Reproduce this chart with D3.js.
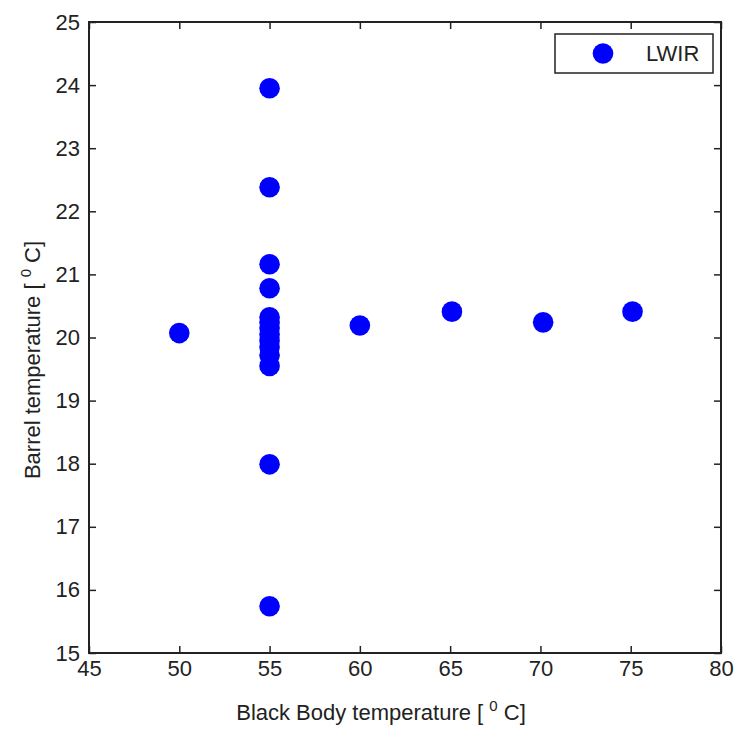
<!DOCTYPE html>
<html>
<head>
<meta charset="utf-8">
<script src="https://cdn.jsdelivr.net/npm/d3@7"></script>
<style>
  body { margin: 0; background: #fff; }
  text { font-family: "Liberation Sans", Arial, sans-serif; fill: #222; }
</style>
</head>
<body>
<div id="chart"></div>
<script>
// black body temp vs barrel temp, LWIR series
const bbTemp     = [50, 55, 55, 55, 55, 55, 55, 55, 55, 55, 55, 55, 55, 55, 55, 60, 65.1, 70.15, 75.1];
const barrelTemp = [20.07, 23.95, 22.38, 21.16, 20.78, 20.32, 20.24, 20.15, 20.05, 19.95, 19.85, 19.72, 19.55, 17.99, 15.74, 20.19, 20.41, 20.24, 20.41];
const xTicks = [45, 50, 55, 60, 65, 70, 75, 80];
const yTicks = [15, 16, 17, 18, 19, 20, 21, 22, 23, 24, 25];
const seriesName = "LWIR";

const W = 742, H = 729;
const plotL = 89, plotR = 721, plotT = 22, plotB = 653;
const fs = "22px";

const svg = d3.select("#chart").append("svg")
    .attr("width", W)
    .attr("height", H);

const x = d3.scaleLinear().domain([45, 80]).range([plotL, plotR]);
const y = d3.scaleLinear().domain([15, 25]).range([plotB, plotT]);

const axisCol = "#222";
const tickLen = 7;

// points first, box on top
const pts = bbTemp.map((b, i) => ({ bb: b, barrel: barrelTemp[i] }));
svg.append("g").selectAll("circle")
    .data(pts)
    .join("circle")
    .attr("cx", d => x(d.bb))
    .attr("cy", d => y(d.barrel))
    .attr("r", 10.3)
    .attr("fill", "#0000ff");

// bottom / left axes with inward ticks
const xAxis = svg.append("g")
    .attr("transform", `translate(0,${plotB})`)
    .call(d3.axisBottom(x).tickValues(xTicks).tickSizeInner(-tickLen).tickSizeOuter(0).tickPadding(10));
const yAxis = svg.append("g")
    .attr("transform", `translate(${plotL},0)`)
    .call(d3.axisLeft(y).tickValues(yTicks).tickSizeInner(-tickLen).tickSizeOuter(0).tickPadding(9));
// top / right ticks, no labels
const xTop = svg.append("g")
    .attr("transform", `translate(0,${plotT})`)
    .call(d3.axisTop(x).tickValues(xTicks).tickSizeInner(-tickLen).tickSizeOuter(0).tickFormat(""));
const yRight = svg.append("g")
    .attr("transform", `translate(${plotR},0)`)
    .call(d3.axisRight(y).tickValues(yTicks).tickSizeInner(-tickLen).tickSizeOuter(0).tickFormat(""));

[xAxis, yAxis, xTop, yRight].forEach(g => {
    g.select(".domain").remove();
    g.selectAll(".tick line").attr("stroke", axisCol).attr("stroke-width", 1.5);
    g.selectAll(".tick text")
        .style("font-family", '"Liberation Sans", Arial, sans-serif')
        .style("font-size", fs)
        .attr("fill", "#222");
});
xAxis.selectAll(".tick text").attr("dy", "0.6em");

svg.append("rect")
    .attr("x", plotL).attr("y", plotT)
    .attr("width", plotR - plotL).attr("height", plotB - plotT)
    .attr("fill", "none")
    .attr("stroke", axisCol)
    .attr("stroke-width", 2);

// axis titles
const xl = svg.append("text")
    .attr("x", 381)
    .attr("y", 720)
    .attr("text-anchor", "middle")
    .style("font-size", fs);
xl.append("tspan").text("Black Body temperature [ ");
xl.append("tspan").attr("dy", -9).style("font-size", "15px").text("0");
xl.append("tspan").attr("dy", 9).text(" C]");

const yl = svg.append("text")
    .attr("transform", `translate(40,360) rotate(-90)`)
    .attr("text-anchor", "middle")
    .style("font-size", fs);
yl.append("tspan").text("Barrel temperature [ ");
yl.append("tspan").attr("dy", -9).style("font-size", "15px").text("0");
yl.append("tspan").attr("dy", 9).text(" C]");

// legend
const lg = svg.append("g");
lg.append("rect")
    .attr("x", 555).attr("y", 34)
    .attr("width", 158).attr("height", 39)
    .attr("fill", "#fff")
    .attr("stroke", axisCol)
    .attr("stroke-width", 1.5);
lg.append("circle")
    .attr("cx", 603).attr("cy", 53.5)
    .attr("r", 10.3)
    .attr("fill", "#0000ff");
lg.append("text")
    .attr("x", 646).attr("y", 61)
    .style("font-size", fs)
    .text(seriesName);
</script>
</body>
</html>
